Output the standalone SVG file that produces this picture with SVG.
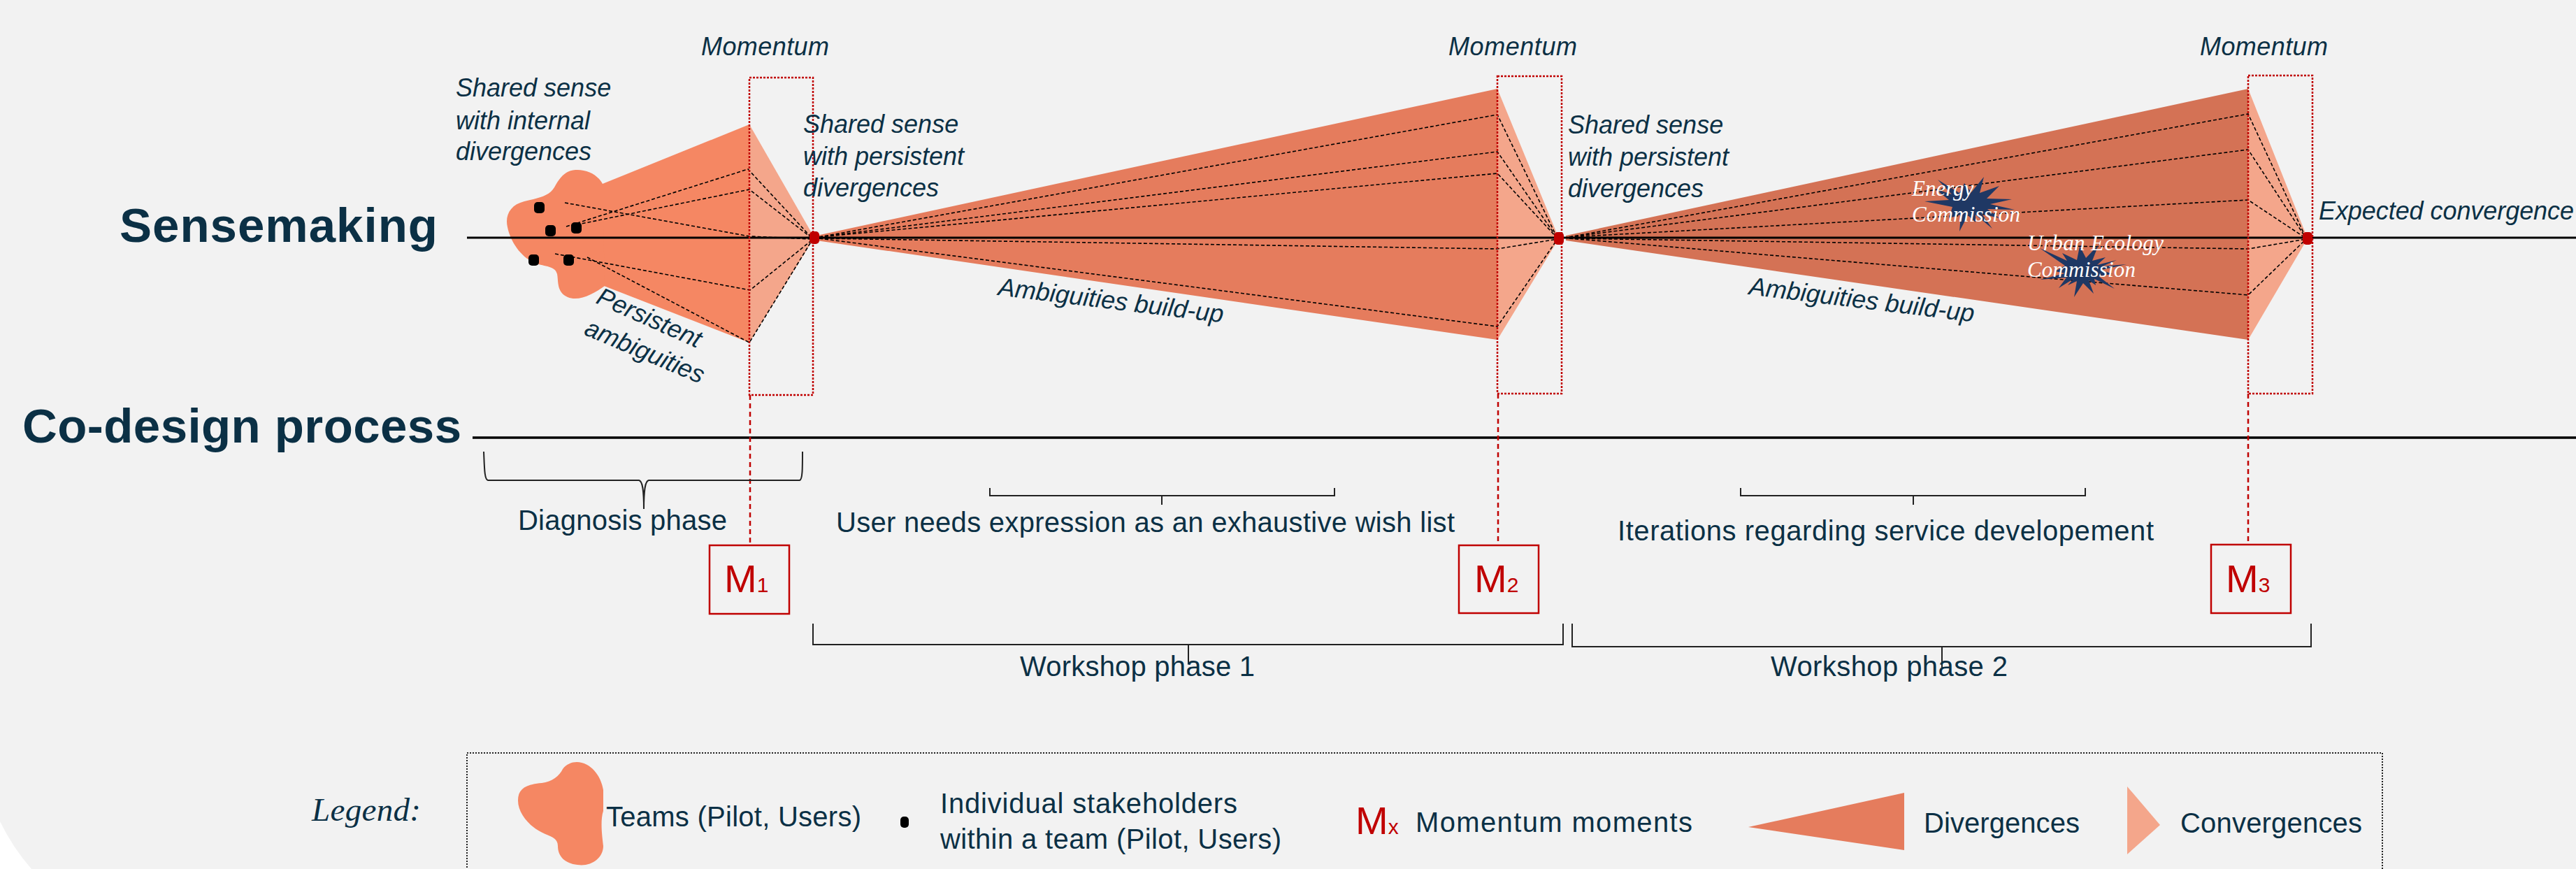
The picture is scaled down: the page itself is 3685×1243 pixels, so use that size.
<svg xmlns="http://www.w3.org/2000/svg" width="3685" height="1243" viewBox="0 0 3685 1243">
<style>
.lbl{font-family:"Liberation Sans",Arial,sans-serif;fill:#0b3045}
.it{font-style:italic;font-size:36px}
.rg{font-size:40px}
.ttl{font-weight:bold;font-size:69px}
.mk{font-family:"Liberation Sans",Arial,sans-serif;fill:#c00000}
.srf{font-family:"Liberation Serif","Times New Roman",serif;font-style:italic}
.dash{fill:none;stroke:#000;stroke-width:1.6;stroke-dasharray:5 3}
.mbox{fill:none;stroke:#c00000;stroke-width:2.5;stroke-dasharray:3 2}
.mline{fill:none;stroke:#c00000;stroke-width:2.5;stroke-dasharray:7 5}
.brk{fill:none;stroke:#222;stroke-width:2}
.div1{fill:#f58763}
.div2{fill:#e57c5d}
.div3{fill:#d47255}
.conv{fill:#f4a68b}
.rdot{fill:#c00000}
</style>
<rect width="3685" height="1243" fill="#ffffff"/>
<path d="M0,0 H3685 V1243 H45 Q18,1212 0,1175 Z" fill="#f2f2f2"/>

<g id="titles">
<text class="lbl ttl" x="171" y="346" textLength="455">Sensemaking</text>
<text class="lbl ttl" x="32" y="633" textLength="628">Co-design process</text>
</g>

<g id="phase1-diagnosis">
<polygon class="div1" points="800,288 1072,178 1072,490 800,384"/>
<path class="div1" d="M862,263 C855,250 840,242 823,243 C808,244 800,255 793,268 C786,280 772,283 750,288 C730,293 722,308 726,325 C730,345 745,368 765,376 C780,382 794,380 797,392 C799,402 796,418 812,425 C828,432 850,420 865,409 Z"/>
<polygon class="conv" points="1072,178 1165,340 1072,490"/>
</g>

<g id="phase2-workshop1">
<polygon class="div2" points="1168,337 2142,127 2142,486 1168,344"/>
<polygon class="conv" points="2142,127 2230,341 2142,486"/>
</g>

<g id="phase3-workshop2">
<polygon class="div3" points="2240,337 3216,127 3216,486 2240,344"/>
<polygon class="conv" points="3216,127 3301,341 3216,486"/>
</g>

<g id="connectors">
<!-- fan 1 -->
<polyline class="dash" points="808,290 1072,338 1162,342"/>
<polyline class="dash" points="810,324 1070,242 1162,341"/>
<polyline class="dash" points="817,323 1072,271 1162,341"/>
<polyline class="dash" points="794,363 1073,415 1162,343"/>
<polyline class="dash" points="840,368 1072,490 1162,343"/>
<!-- fan 2 -->
<polyline class="dash" points="1172,339 2142,164 2228,341"/>
<polyline class="dash" points="1172,339 2142,217 2228,341"/>
<polyline class="dash" points="1172,339 2142,248 2228,341"/>
<polyline class="dash" points="1172,341 2142,356 2228,342"/>
<polyline class="dash" points="1172,341 2142,467 2228,342"/>
<!-- fan 3 -->
<polyline class="dash" points="2245,339 3216,163 3299,341"/>
<polyline class="dash" points="2245,339 3216,214 3299,341"/>
<polyline class="dash" points="2245,339 3216,286 3299,341"/>
<polyline class="dash" points="2245,341 3216,356 3299,342"/>
<polyline class="dash" points="2245,341 3216,422 3299,342"/>
<!-- axes -->
<line x1="668" y1="340" x2="3685" y2="340" stroke="#000" stroke-width="3.2"/>
<line x1="676" y1="626" x2="3685" y2="626" stroke="#000" stroke-width="3.5"/>
<!-- momentum drop lines -->
<line class="mline" x1="1073" y1="565" x2="1073" y2="780"/>
<line class="mline" x1="2143" y1="563" x2="2143" y2="780"/>
<line class="mline" x1="3216" y1="563" x2="3216" y2="779"/>
</g>

<g id="commissions">
<polygon fill="#1f3864" points="2838,253 2832,276 2860,266 2842,284 2878,285 2847,292 2882,300 2843,299 2860,312 2835,306 2850,327 2826,307 2826,318 2815,308 2803,331 2805,307 2788,312 2793,296 2753,288 2788,286 2768,270 2792,278 2772,257 2803,276 2810,262 2820,275"/>
<polygon fill="#1f3864" points="3002,350 2993,373 3012,368 3000,379 3028,372 3007,381 3042,378 3006,386 3022,392 3002,395 3025,413 2996,399 2998,408 2988,401 2995,420 2980,405 2967,425 2971,402 2958,408 2966,399 2945,412 2956,397 2918,400 2954,391 2940,388 2954,380 2918,355 2957,373 2950,362 2971,372 2975,352 2984,369"/>
<text class="srf" fill="#ffffff" font-size="31" x="2735" y="280">Energy</text>
<text class="srf" fill="#ffffff" font-size="31" x="2735" y="317" textLength="155">Commission</text>
<text class="srf" fill="#ffffff" font-size="31" x="2900" y="358" textLength="195">Urban Ecology</text>
<text class="srf" fill="#ffffff" font-size="31" x="2900" y="396" textLength="155">Commission</text>
</g>

<g id="stakeholders">
<rect x="764" y="289" width="15" height="16" rx="5" fill="#000"/>
<rect x="780" y="322" width="15" height="16" rx="5" fill="#000"/>
<rect x="817" y="318" width="15" height="16" rx="5" fill="#000"/>
<rect x="756" y="364" width="15" height="16" rx="5" fill="#000"/>
<rect x="806" y="364" width="15" height="16" rx="5" fill="#000"/>
</g>

<g id="convergence-points">
<rect class="rdot" x="1158" y="331" width="14" height="18" rx="5"/>
<rect class="rdot" x="2223" y="332" width="14" height="18" rx="5"/>
<rect class="rdot" x="3294" y="332" width="14" height="18" rx="5"/>
</g>

<g id="momentum-1">
<rect class="mbox" x="1072" y="111" width="91" height="454"/>
<text class="lbl it" x="1003" y="79" textLength="183">Momentum</text>
<rect x="1015" y="780" width="114" height="98" fill="none" stroke="#c00000" stroke-width="2.5"/>
<text class="mk" x="1036" y="847" font-size="56">M<tspan font-size="30">1</tspan></text>
</g>
<g id="momentum-2">
<rect class="mbox" x="2142" y="109" width="92" height="454"/>
<text class="lbl it" x="2072" y="79" textLength="184">Momentum</text>
<rect x="2087" y="780" width="114" height="97" fill="none" stroke="#c00000" stroke-width="2.5"/>
<text class="mk" x="2109" y="847" font-size="56">M<tspan font-size="30">2</tspan></text>
</g>
<g id="momentum-3">
<rect class="mbox" x="3216" y="108" width="92" height="455"/>
<text class="lbl it" x="3147" y="79" textLength="183">Momentum</text>
<rect x="3163" y="779" width="114" height="98" fill="none" stroke="#c00000" stroke-width="2.5"/>
<text class="mk" x="3184" y="847" font-size="56">M<tspan font-size="30">3</tspan></text>
</g>

<g id="sense-labels">
<text class="lbl it" x="652" y="138">Shared sense</text>
<text class="lbl it" x="652" y="185">with internal</text>
<text class="lbl it" x="652" y="229">divergences</text>
<text class="lbl it" transform="translate(851,433) rotate(24)">Persistent</text>
<text class="lbl it" transform="translate(834,478) rotate(23)">ambiguities</text>
<text class="lbl it" x="1149" y="190">Shared sense</text>
<text class="lbl it" x="1149" y="236">with persistent</text>
<text class="lbl it" x="1149" y="281">divergences</text>
<text class="lbl it" transform="translate(1427,422) rotate(7)">Ambiguities build-up</text>
<text class="lbl it" x="2243" y="191">Shared sense</text>
<text class="lbl it" x="2243" y="237">with persistent</text>
<text class="lbl it" x="2243" y="282">divergences</text>
<text class="lbl it" transform="translate(2501,421) rotate(7)">Ambiguities build-up</text>
<text class="lbl it" x="3317" y="314" textLength="365">Expected convergence</text>
</g>

<g id="phase-brackets">
<path class="brk" d="M692,646 C693,670 693,686 698,687 L914,687 C919,688 921,700 921,728 C921,700 923,688 928,687 L1144,687 C1148,686 1148,670 1148,646"/>
<text class="lbl rg" x="741" y="758" textLength="299">Diagnosis phase</text>
<path class="brk" d="M1416,698 V709 H1909 V698 M1662,709 V722"/>
<text class="lbl rg" x="1196" y="761" textLength="885">User needs expression as an exhaustive wish list</text>
<path class="brk" d="M2490,698 V709 H2983 V698 M2737,709 V722"/>
<text class="lbl rg" x="2314" y="773" textLength="767">Iterations regarding service developement</text>
<path class="brk" d="M1163,892 V922 H2236 V892 M1700,922 V950"/>
<text class="lbl rg" x="1459" y="967" textLength="336">Workshop phase 1</text>
<path class="brk" d="M2249,892 V925 H3306 V892 M2778,925 V956"/>
<text class="lbl rg" x="2533" y="967" textLength="339">Workshop phase 2</text>
</g>

<g id="legend">
<rect x="668" y="1077" width="2740" height="220" fill="none" stroke="#222" stroke-width="2" stroke-dasharray="2 2"/>
<text class="srf" fill="#0b3045" font-size="47" x="446" y="1174" textLength="156">Legend:</text>
<path class="div1" d="M825,1090 C845,1090 860,1110 863,1130 L863,1160 C858,1175 862,1200 863,1210 C863,1228 845,1240 826,1237 C808,1235 798,1225 798,1210 C798,1200 790,1197 780,1193 C760,1185 741,1165 741,1145 C741,1128 752,1122 775,1120 C790,1118 800,1110 805,1100 C810,1093 818,1090 825,1090 Z"/>
<text class="lbl rg" x="867" y="1182" textLength="365">Teams (Pilot, Users)</text>
<rect x="1288" y="1168" width="12" height="16" rx="5" fill="#000"/>
<text class="lbl rg" x="1345" y="1163" textLength="425">Individual stakeholders</text>
<text class="lbl rg" x="1345" y="1214" textLength="488">within a team (Pilot, Users)</text>
<text class="mk" x="1939" y="1193" font-size="56">M<tspan font-size="30">x</tspan></text>
<text class="lbl rg" x="2025" y="1190" textLength="396">Momentum moments</text>
<polygon class="div2" points="2501,1183 2724,1134 2724,1216"/>
<text class="lbl rg" x="2752" y="1191" textLength="223">Divergences</text>
<polygon class="conv" points="3043,1125 3090,1180 3043,1222"/>
<text class="lbl rg" x="3119" y="1191" textLength="260">Convergences</text>
</g>
</svg>
